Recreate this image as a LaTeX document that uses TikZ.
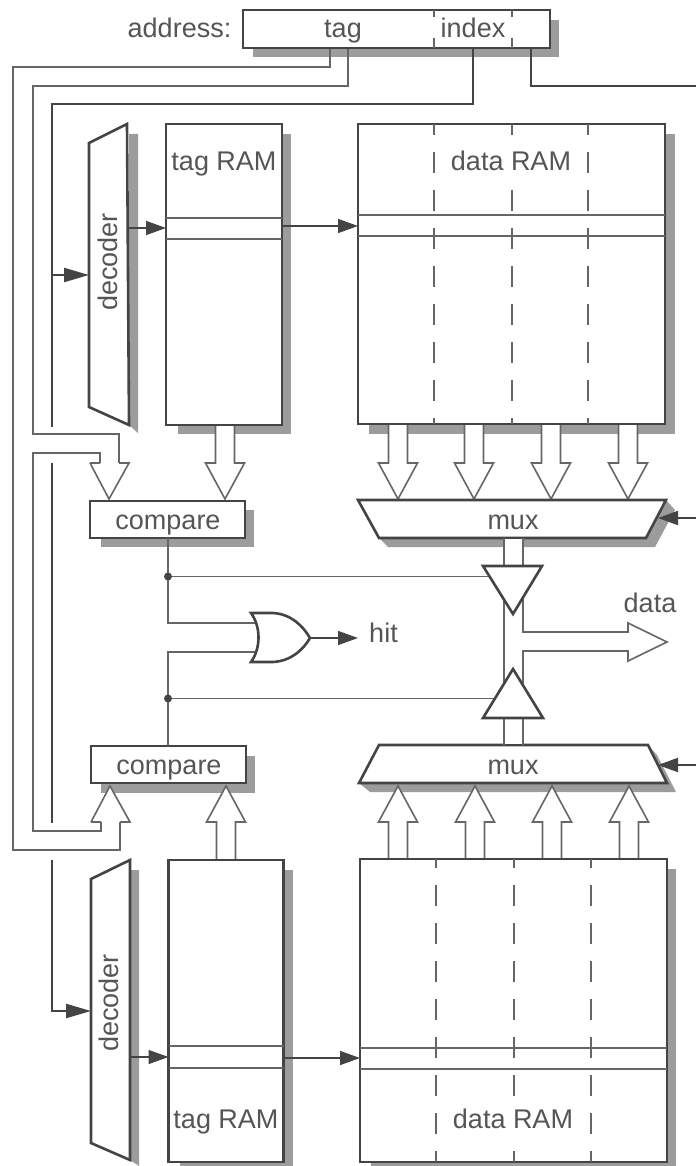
\documentclass[tikz,border=0pt]{standalone}
\usepackage{fontspec}
\setmainfont{Liberation Sans}
\usetikzlibrary{arrows.meta,calc}
\definecolor{ink}{HTML}{444444}
\definecolor{soft}{HTML}{666666}
\definecolor{txt}{HTML}{555555}
\definecolor{shade}{HTML}{9C9C9C}
\tikzset{
  x=1pt,y=-1pt,
  box/.style={draw=ink,line width=2.6pt,fill=white,inner sep=0pt,outer sep=0pt},
  shp/.style={draw=ink,line width=2.6pt,fill=white,line join=miter},
  shadowfill/.style={fill=shade,draw=none},
  thin line/.style={draw=soft,line width=1.4pt},
  bus/.style={draw=soft,line width=1.6pt,fill=white,line join=miter},
  buswire/.style={draw=soft,line width=1.6pt,line join=miter},
  idx/.style={draw=ink,line width=2.2pt,line join=miter},
  sig/.style={draw=ink,line width=1.4pt,-{Triangle[length=20pt,width=14pt]}},
  sigthick/.style={draw=ink,line width=2.2pt,line join=miter,-{Triangle[length=25pt,width=14pt]}},
  dashT/.style={draw=soft,line width=1.4pt,dash pattern=on 21pt off 17pt,dash phase=10pt},
  dashB/.style={draw=soft,line width=1.4pt,dash pattern=on 21pt off 17pt,dash phase=12pt},
  lbl/.style={text=txt,font=\fontsize{27}{30}\selectfont,inner sep=0pt,anchor=base},
  lblbg/.style={lbl,fill=white,inner sep=2pt,text depth=8pt},
  dotn/.style={circle,fill=ink,inner sep=0pt,minimum size=8pt},
}
\begin{document}
\begin{tikzpicture}
\useasboundingbox (0,0) rectangle (696,1166);
\fill[white] (0,0) rectangle (696,1166);

% ---------- named points
\coordinate (adrTagL) at (330,48);
\coordinate (adrTagR) at (348,48);
\coordinate (adrIdx) at (473,48);
\coordinate (adrOff) at (531,48);
\coordinate (offEnd) at (696,86);
\coordinate (decTin) at (89,275);
\coordinate (decBin) at (91,1011);
\coordinate (idxTurn) at (52,104);
\coordinate (idxTap) at (52,275);

% ---------- shadows
\fill[shadowfill] (253,48) rectangle (559,57);
\fill[shadowfill] (550,20) rectangle (559,57);
\fill[shadowfill] (129,134) -- (138,134) -- (138,433) -- (129,425) -- cycle;
\fill[shadowfill] (282,134) rectangle (291,434);
\fill[shadowfill] (178,425) rectangle (291,434);
\fill[shadowfill] (665,134) rectangle (675,434);
\fill[shadowfill] (369,424) rectangle (675,434);
\fill[shadowfill] (245,510) rectangle (254,547);
\fill[shadowfill] (101,538) rectangle (254,547);
\fill[shadowfill] (379,538) -- (646,538) -- (666,500) -- (675,510) -- (655,547) -- (388,547) -- cycle;
\fill[shadowfill] (648,745) -- (667,783) -- (359,783) -- (370,792) -- (676,792) -- (657,755) -- cycle;
\fill[shadowfill] (246,756) rectangle (255,793);
\fill[shadowfill] (101,783) rectangle (255,793);
\fill[shadowfill] (130,870) -- (139,870) -- (139,1166) -- (130,1160) -- cycle;
\fill[shadowfill] (284,870) rectangle (293,1166);
\fill[shadowfill] (180,1162) rectangle (293,1166);
\fill[shadowfill] (667,869) rectangle (676,1166);
\fill[shadowfill] (371,1162) rectangle (676,1166);

% ---------- tag buses
\draw[buswire] (adrTagL) |- (13,67) -- (13,850) -- (120,850) -- (120,822);
\draw[buswire] (adrTagR) |- (33,86) -- (33,434) -- (119,434) -- (119,463);
\draw[buswire] (100,463) -- (100,453) -- (33,453) -- (33,831) -- (101,831) -- (101,822);

% ---------- index wire
\draw[idx] (adrIdx) |- (idxTurn) -- (52,427);
\draw[idx] (52,463) -- (52,823);
\draw[sigthick] (52,860) |- (decBin);
\draw[sigthick] (idxTap) -- (decTin);

% ---------- offset wire
\draw[idx] (adrOff) |- (offEnd);

% ---------- bus arrows
\foreach \c in {225,398,474,551,628}
  \draw[bus] (\c-9.5,424) -- (\c-9.5,463) -- (\c-19.5,463) -- (\c,499) -- (\c+19.5,463) -- (\c+9.5,463) -- (\c+9.5,424);
\foreach \c in {226,398,475,552,629}
  \draw[bus] (\c-9.5,860) -- (\c-9.5,822) -- (\c-19.5,822) -- (\c,786) -- (\c+19.5,822) -- (\c+9.5,822) -- (\c+9.5,860);
\draw[bus] (90,463) -- (109,499) -- (129,463) -- (119,463) (100,463) -- (90,463);
\draw[bus] (91,822) -- (110,786) -- (130,822) -- (120,822) (101,822) -- (91,822);

% ---------- address register
\node[box,minimum width=307pt,minimum height=38pt] (addr) at (396.5,29) {};
\node[lbl] (addrlab) at (179.5,38) {address:};
\node[lbl] (tagf) at (343,38) {tag};
\node[lbl] (idxf) at (473,38) {index};
\foreach \x in {434,512} {
  \draw[thin line] (\x,10) -- (\x,17);
  \draw[thin line] (\x,38) -- (\x,48);
}

% ---------- top row
\draw[shp] (89,143) -- (127,124) -- (129,425) -- (89,407) -- cycle;
\node[lbl,rotate=90] (decTl) at (117,262) {decoder};
\node[box,minimum width=116pt,minimum height=301pt] (tagT) at (224,274.5) {};
\draw[thin line] (tagT.west|-0,218) -- (tagT.east|-0,218);
\draw[thin line] (tagT.west|-0,239) -- (tagT.east|-0,239);
\node[lbl] (tagTl) at (224,171) {tag RAM};
\node[box,minimum width=307pt,minimum height=300pt] (dataT) at (511.5,274) {};
\foreach \x in {434,512,588} \draw[dashT] (\x,124) -- (\x,424);
\draw[thin line] (dataT.west|-0,215) -- (dataT.east|-0,215);
\draw[thin line] (dataT.west|-0,236) -- (dataT.east|-0,236);
\node[lblbg] (dataTl) at (511,171) {data RAM};
\draw[sig] (129,228) -- (tagT.west|-0,228);
\draw[sig] (tagT.east|-0,226) -- (dataT.west|-0,226);

% ---------- compare and mux, upper
\node[box,minimum width=155pt,minimum height=37pt] (cmpT) at (167.5,519.5) {};
\node[lbl] at (168,529) {compare};
\draw[shp] (358,500) -- (666,500) -- (646,538) -- (379,538) -- cycle;
\node[lbl] (muxT) at (513,529) {mux};
\coordinate (muxTsel) at (658,518);
\draw[sig,line width=2pt] (696,518) -- (muxTsel);

% ---------- compare and mux, lower
\node[box,minimum width=155pt,minimum height=37pt] (cmpB) at (168.5,764.5) {};
\node[lbl] at (169,774) {compare};
\draw[shp] (379,745) -- (648,745) -- (667,783) -- (359,783) -- cycle;
\node[lbl] (muxB) at (513,774) {mux};
\coordinate (muxBsel) at (658,765);
\draw[sig,line width=2pt] (696,765) -- (muxBsel);

% ---------- hit logic
\coordinate (orA) at (258,623);
\coordinate (orB) at (258,652);
\coordinate (orOut) at (310,638);
\draw[thin line] (cmpT.south-|168,0) -- (168,623) -- (orA);
\draw[thin line] (cmpB.north-|168,0) -- (168,652) -- (orB);
\node[dotn] (dotT) at (168,576.5) {};
\node[dotn] (dotB) at (168,698.5) {};
\draw[thin line] (dotT) -- (495,576.5);
\draw[thin line] (dotB) -- (495,698.5);
\draw[shp] (251,613) -- (273,613) .. controls (291,614) and (303,626) .. (orOut)
  .. controls (303,650) and (291,661) .. (273,662) -- (251,662)
  .. controls (261,648) and (261,627) .. (251,613) -- cycle;
\draw[sig] (orOut) -- (358,638);
\node[lbl] (hit) at (383.5,642) {hit};

% ---------- output bus
\fill[white] (504,539) rectangle (523,744);
\draw[buswire] (504,538) -- (504,745);
\draw[bus] (523,538) -- (523,632) -- (628,632) -- (628,623) -- (667,642) -- (628,661) -- (628,651) -- (523,651) -- (523,745);
\draw[shp] (483,566) -- (542,566) -- (513,614) -- cycle;
\draw[shp] (513,669) -- (543,718) -- (483,718) -- cycle;
\node[lbl] (datal) at (650,612) {data};

% ---------- bottom row
\draw[shp] (91,879) -- (130,860) -- (130,1160) -- (91,1143) -- cycle;
\node[lbl,rotate=90] (decBl) at (118,1003) {decoder};
\node[box,minimum width=115pt,minimum height=302pt] (tagB) at (226,1011) {};
\draw[thin line] (tagB.west|-0,1046) -- (tagB.east|-0,1046);
\draw[thin line] (tagB.west|-0,1068) -- (tagB.east|-0,1068);
\node[lbl] (tagBl) at (226,1128) {tag RAM};
\node[box,minimum width=307pt,minimum height=303pt] (dataB) at (513.5,1010.5) {};
\foreach \x in {436,514,591} \draw[dashB] (\x,859) -- (\x,1162);
\draw[thin line] (dataB.west|-0,1048) -- (dataB.east|-0,1048);
\draw[thin line] (dataB.west|-0,1069) -- (dataB.east|-0,1069);
\node[lblbg] (dataBl) at (513,1128) {data RAM};
\draw[sig] (130,1057) -- (tagB.west|-0,1057);
\draw[sig] (tagB.east|-0,1058) -- (dataB.west|-0,1058);
\end{tikzpicture}
\end{document}
